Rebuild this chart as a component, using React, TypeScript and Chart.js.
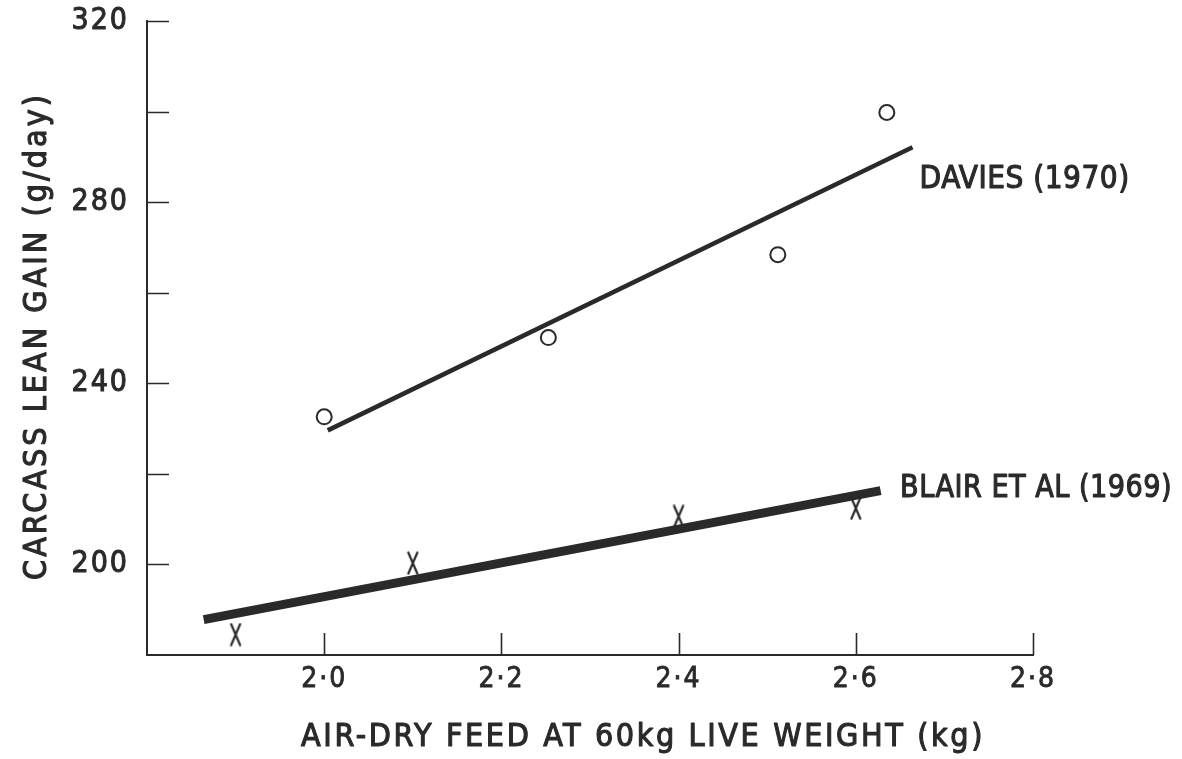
import React, { useEffect, useRef } from "react";
import { Chart, registerables } from "chart.js";

Chart.register(...registerables);

// ---- data ----
const daviesFeed = [2.0, 2.253, 2.512, 2.635];
const daviesGain = [232.6, 250.1, 268.4, 299.8];
const daviesFitFeed = [2.004, 2.664];
const daviesFitGain = [229.6, 292.1];

const blairFeed = [1.9, 2.1, 2.4, 2.6];
const blairGain = [184.5, 200.3, 210.6, 212.4];
const blairFitFeed = [1.864, 2.628];
const blairFitGain = [187.8, 216.3];

const yLabelledTicks = [200, 240, 280, 320];
const seriesLabels = ["DAVIES (1970)", "BLAIR ET AL (1969)"];
const labelAnchorFeed = [2.672, 2.65];
const labelAnchorGain = [284.9, 216.8];
const labelMaxWidth = [210, 272];

const xTitle = "AIR-DRY FEED AT 60kg LIVE WEIGHT (kg)";
const yTitle = "CARCASS LEAN GAIN (g/day)";

const INK = "#2a2a2a";
const COND = '"DejaVu Sans Condensed", "DejaVu Sans", sans-serif';

function pts(xs: number[], ys: number[]) {
  return xs.map((x, i) => ({ x, y: ys[i] }));
}

function makeCross(): HTMLCanvasElement {
  const c = document.createElement("canvas");
  c.width = 14;
  c.height = 24;
  const g = c.getContext("2d")!;
  g.strokeStyle = INK;
  g.lineWidth = 2.2;
  g.lineCap = "round";
  g.beginPath();
  g.moveTo(2.5, 1.5);
  g.lineTo(11.5, 22.5);
  g.moveTo(11.5, 1.5);
  g.lineTo(2.5, 22.5);
  g.stroke();
  return c;
}

const inwardTicks = {
  id: "inwardTicks",
  beforeDraw(chart: any) {
    (chart.ctx as any).letterSpacing = "2px";
  },
  beforeDatasetsDraw(chart: any) {
    const { ctx, chartArea, scales } = chart;
    const len = 22;
    ctx.save();
    ctx.strokeStyle = INK;
    ctx.lineWidth = 1.6;
    ctx.beginPath();
    scales.y.ticks.forEach((t: any) => {
      if (t.value <= scales.y.min + 1e-9) return;
      const y = Math.round(scales.y.getPixelForValue(t.value)) + 0.5;
      ctx.moveTo(chartArea.left, y);
      ctx.lineTo(chartArea.left + len, y);
    });
    scales.x.ticks.forEach((t: any) => {
      if (t.value <= scales.x.min + 1e-9) return;
      const x = Math.round(scales.x.getPixelForValue(t.value)) + 0.5;
      ctx.moveTo(x, chartArea.bottom);
      ctx.lineTo(x, chartArea.bottom - len);
    });
    ctx.stroke();
    ctx.restore();
  },
};

function boldText(ctx: any, s: string, x: number, y: number, maxW?: number) {
  if (maxW) {
    ctx.fillText(s, x, y, maxW);
    ctx.strokeText(s, x, y, maxW);
  } else {
    ctx.fillText(s, x, y);
    ctx.strokeText(s, x, y);
  }
}

const textPlugin = {
  id: "textPlugin",
  afterDraw(chart: any) {
    const { ctx, scales } = chart;
    ctx.save();
    ctx.fillStyle = INK;
    ctx.strokeStyle = INK;
    ctx.lineWidth = 1.1;
    ctx.lineJoin = "round";
    // y title
    (ctx as any).letterSpacing = "3px";
    ctx.font = `32px ${COND}`;
    ctx.save();
    ctx.translate(38, 336);
    ctx.rotate(-Math.PI / 2);
    ctx.textAlign = "center";
    ctx.textBaseline = "middle";
    boldText(ctx, yTitle, 0, 0);
    ctx.restore();
    // x title
    (ctx as any).letterSpacing = "2.6px";
    ctx.textAlign = "center";
    ctx.textBaseline = "middle";
    boldText(ctx, xTitle, 643, 738);
    // series labels
    (ctx as any).letterSpacing = "0.5px";
    ctx.textAlign = "left";
    ctx.font = `32px ${COND}`;
    seriesLabels.forEach((s, i) => {
      const x = scales.x.getPixelForValue(labelAnchorFeed[i]);
      const y = scales.y.getPixelForValue(labelAnchorGain[i]);
      boldText(ctx, s, x, y, labelMaxWidth[i]);
    });
    ctx.restore();
    (ctx as any).letterSpacing = "0px";
  },
};

export default function App() {
  const ref = useRef<HTMLCanvasElement | null>(null);
  useEffect(() => {
    if (!ref.current) return;
    const cross = makeCross();
    const chart = new Chart(ref.current, {
      type: "scatter",
      data: {
        datasets: [
          {
            label: "Davies fit",
            data: pts(daviesFitFeed, daviesFitGain),
            showLine: true,
            borderColor: INK,
            borderWidth: 4.5,
            pointRadius: 0,
            order: 2,
          },
          {
            label: "Blair fit",
            data: pts(blairFitFeed, blairFitGain),
            showLine: true,
            borderColor: INK,
            borderWidth: 9,
            pointRadius: 0,
            order: 2,
          },
          {
            label: seriesLabels[0],
            data: pts(daviesFeed, daviesGain),
            pointStyle: "circle",
            pointRadius: 7.5,
            borderWidth: 2,
            borderColor: INK,
            backgroundColor: "#ffffff",
            order: 1,
          },
          {
            label: seriesLabels[1],
            data: pts(blairFeed, blairGain),
            pointStyle: cross as any,
            pointRadius: 10,
            order: 1,
          },
        ],
      },
      options: {
        animation: false,
        responsive: true,
        maintainAspectRatio: false,
        layout: { padding: { top: 21, right: 149, left: 0, bottom: 0 } },
        plugins: {
          legend: { display: false },
          tooltip: { enabled: false },
        },
        scales: {
          x: {
            type: "linear",
            min: 1.8,
            max: 2.8,
            grid: { display: false, drawTicks: false },
            border: { display: true, color: INK, width: 2 },
            ticks: {
              stepSize: 0.2,
              padding: 8,
              color: INK,
              textStrokeColor: INK,
              textStrokeWidth: 0.8,
              font: { family: COND, size: 28 },
              callback: (v: any) => {
                const n = Number(v);
                if (n < 1.9) return "";
                return n.toFixed(1).replace(".", "·");
              },
            },
            afterFit: (s: any) => {
              s.height = 104;
              s.paddingLeft = 0;
              s.paddingRight = 0;
            },
          },
          y: {
            type: "linear",
            min: 180,
            max: 320,
            grid: { display: false, drawTicks: false },
            border: { display: true, color: INK, width: 2 },
            ticks: {
              stepSize: 20,
              padding: 18,
              color: INK,
              textStrokeColor: INK,
              textStrokeWidth: 1,
              font: { family: COND, size: 30 },
              callback: (v: any) => {
                const n = Math.round(Number(v));
                return yLabelledTicks.includes(n) ? String(n) : "";
              },
            },
            afterFit: (s: any) => {
              s.width = 147;
              s.paddingTop = 0;
              s.paddingBottom = 0;
            },
          },
        },
      },
      plugins: [inwardTicks, textPlugin],
    });
    return () => chart.destroy();
  }, []);
  return (
    <div style={{ position: "fixed", left: 0, top: 0, width: 1182, height: 759, background: "#fff" }}>
      <canvas ref={ref} />
    </div>
  );
}
